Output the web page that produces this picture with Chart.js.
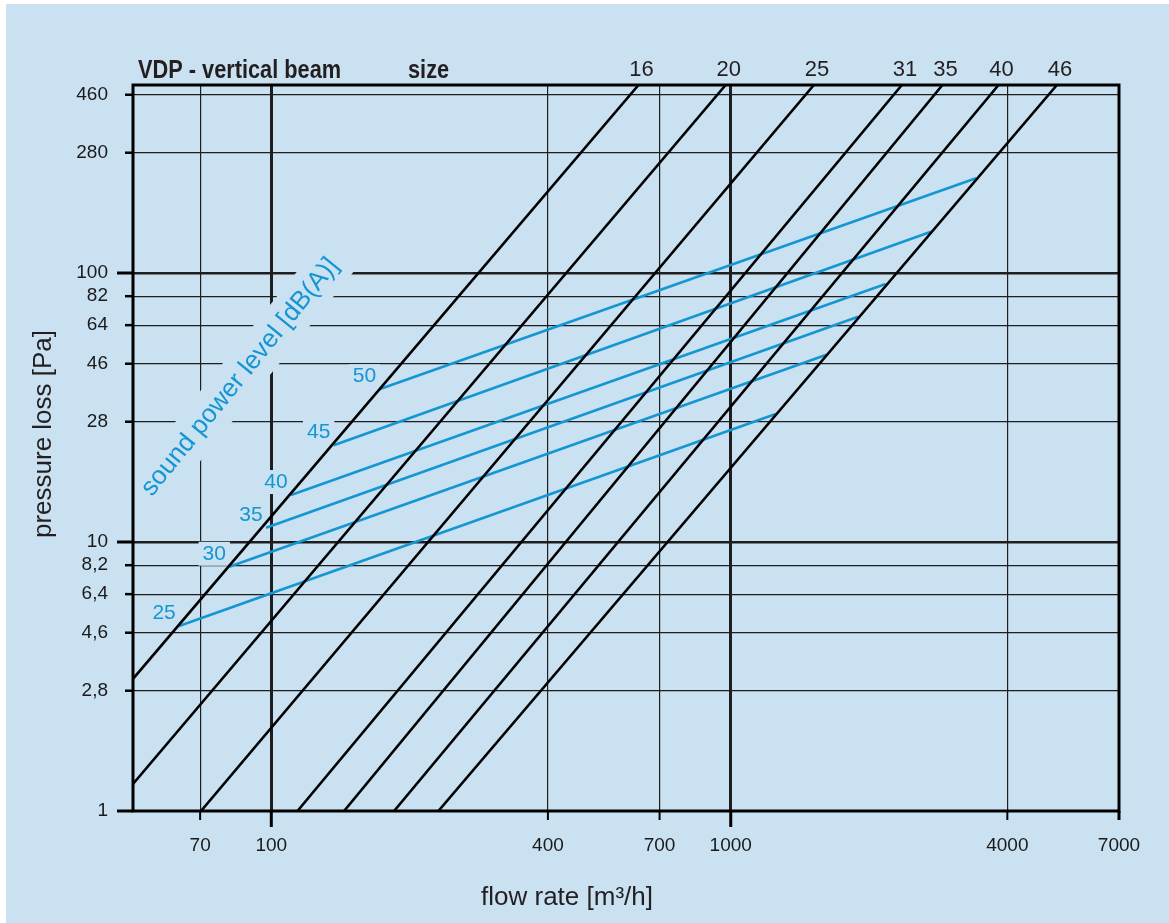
<!DOCTYPE html>
<html>
<head>
<meta charset="utf-8">
<script src="https://cdn.jsdelivr.net/npm/chart.js@4.4.1/dist/chart.umd.min.js"></script>
<style>
  html, body { margin: 0; padding: 0; background: #fff; }
  canvas { display: block; }
</style>
</head>
<body>
<canvas id="lossChart" width="1169" height="923"></canvas>
<script>
// Data (log-log, flow [m3/h] vs pressure loss [Pa])
const flowTicks = [70, 100, 400, 700, 1000, 4000, 7000];
const lossTicks = [1, 2.8, 4.6, 6.4, 8.2, 10, 28, 46, 64, 82, 100, 280, 460];

// size lines: one low point and one high point each
const sizes = ['16', '20', '25', '31', '35', '40', '46'];
const sizeFlowLow = [50, 50, 70.3, 114, 144, 185, 231];
const sizeLossLow = [3.1, 1.26, 1, 1, 1, 1, 1];
const sizeFlowHigh = [630, 975, 1517, 2358, 2890, 3828, 5129];
const sizeLossHigh = [500, 500, 500, 500, 500, 500, 500];

// sound power level lines [dB(A)]
const soundLevels = ['25', '30', '35', '40', '45', '50'];
const soundFlowStart = [63.0, 81.0, 97.4, 110.4, 136.7, 171.9];
const soundLossStart = [4.87, 8.09, 11.3, 14.95, 22.9, 37.0];
const soundFlowEnd = [1253, 1616, 1894, 2173, 2728, 3418];
const soundLossEnd = [29.9, 49.7, 68.8, 91.0, 142.4, 224.9];

// Theme
const colors = {
    bg: '#cae1f2',
    ink: '#231f20',
    grid: '#1e1e1e',
    blue: '#1496d2'
};
const font = "'Liberation Sans', Arial, sans-serif";
Chart.defaults.font.family = font;

const majorFlow = [100, 1000];
const majorLoss = [10, 100];

const datasets = [];
sizes.forEach((s, i) => {
    datasets.push({
        label: 'size ' + s,
        data: [{ x: sizeFlowLow[i], y: sizeLossLow[i] }, { x: sizeFlowHigh[i], y: sizeLossHigh[i] }],
        borderColor: '#000',
        borderWidth: 2.6,
        order: 0
    });
});
soundLevels.forEach((s, i) => {
    datasets.push({
        label: s + ' dB(A)',
        data: [{ x: soundFlowStart[i], y: soundLossStart[i] }, { x: soundFlowEnd[i], y: soundLossEnd[i] }],
        borderColor: colors.blue,
        borderWidth: 2.6,
        order: 1
    });
});

function labelBox(ctx, text, x, y) {
    const w = ctx.measureText(text).width;
    ctx.fillStyle = colors.bg;
    ctx.fillRect(x - w / 2 - 4, y - 12, w + 8, 24);
    ctx.fillStyle = colors.blue;
    ctx.fillText(text, x, y);
}

const decor = {
    id: 'decor',
    beforeDraw(chart) {
        const ctx = chart.ctx;
        ctx.save();
        ctx.fillStyle = '#fff';
        ctx.fillRect(0, 0, chart.width, chart.height);
        ctx.fillStyle = colors.bg;
        ctx.fillRect(6, 4, chart.width - 6, chart.height - 4);
        ctx.restore();
    },
    beforeDatasetsDraw(chart) {
        const ctx = chart.ctx;
        const a = chart.chartArea;
        const xs = chart.scales.x, ys = chart.scales.y;
        ctx.save();
        // rotated caption, its box hides the grid behind it
        const cap = 'sound power level [dB(A)]';
        ctx.translate(a.left + 107, a.top + 292);
        ctx.rotate(-51 * Math.PI / 180);
        ctx.font = '26px ' + font;
        const w = ctx.measureText(cap).width;
        ctx.fillStyle = colors.bg;
        ctx.fillRect(-w / 2 - 8, -22, w + 16, 44);
        ctx.fillStyle = colors.blue;
        ctx.textAlign = 'center';
        ctx.textBaseline = 'middle';
        ctx.fillText(cap, 0, 0);
        ctx.restore();

        ctx.save();
        ctx.font = '21px ' + font;
        ctx.textAlign = 'center';
        ctx.textBaseline = 'middle';
        soundLevels.forEach((s, i) => {
            const px = xs.getPixelForValue(soundFlowStart[i]);
            const py = ys.getPixelForValue(soundLossStart[i]);
            labelBox(ctx, s, px - 15, py - 13);
        });
        ctx.restore();
    },
    afterDatasetsDraw(chart) {
        const ctx = chart.ctx;
        const a = chart.chartArea;
        const xs = chart.scales.x, ys = chart.scales.y;
        ctx.save();
        // frame
        ctx.strokeStyle = '#000';
        ctx.lineWidth = 3;
        ctx.strokeRect(a.left, a.top, a.right - a.left, a.bottom - a.top);

        // outside tick marks
        lossTicks.forEach(v => {
            const py = ys.getPixelForValue(v);
            const big = v === 1 || majorLoss.includes(v);
            ctx.lineWidth = big ? 3 : 2.5;
            ctx.beginPath();
            ctx.moveTo(a.left, py);
            ctx.lineTo(a.left - (big ? 16 : 8), py);
            ctx.stroke();
        });
        flowTicks.forEach(v => {
            const px = xs.getPixelForValue(v);
            const big = majorFlow.includes(v);
            ctx.lineWidth = big || v === 7000 ? 3 : 2;
            ctx.beginPath();
            ctx.moveTo(px, a.bottom);
            ctx.lineTo(px, a.bottom + (big ? 16 : 9));
            ctx.stroke();
        });

        // size labels above the line ends
        ctx.fillStyle = colors.ink;
        ctx.font = '22px ' + font;
        ctx.textAlign = 'center';
        ctx.textBaseline = 'alphabetic';
        sizes.forEach((s, i) => {
            const px = xs.getPixelForValue(sizeFlowHigh[i]);
            ctx.fillText(s, px + 3, a.top - 9);
        });

        // heading, narrow bold
        ctx.font = 'bold 25px ' + font;
        ctx.textAlign = 'left';
        ctx.save();
        ctx.translate(a.left + 5, a.top - 7);
        ctx.scale(0.87, 1);
        ctx.fillText('VDP - vertical beam', 0, 0);
        ctx.restore();
        ctx.save();
        ctx.translate(a.left + 275, a.top - 7);
        ctx.scale(0.87, 1);
        ctx.fillText('size', 0, 0);
        ctx.restore();

        // axis titles
        ctx.font = '26px ' + font;
        ctx.textAlign = 'center';
        ctx.fillText('flow rate [m\u00b3/h]', 567, 905);
        ctx.save();
        ctx.translate(51, 434);
        ctx.rotate(-Math.PI / 2);
        ctx.fillText('pressure loss [Pa]', 0, 0);
        ctx.restore();
        ctx.restore();
    }
};

new Chart(document.getElementById('lossChart'), {
    type: 'scatter',
    data: { datasets },
    options: {
        responsive: false,
        devicePixelRatio: 1,
        animation: false,
        showLine: true,
        elements: { point: { radius: 0 }, line: { tension: 0 } },
        layout: { padding: { left: 0, right: 50, top: 85, bottom: 0 } },
        plugins: { legend: { display: false }, tooltip: { enabled: false } },
        scales: {
            x: {
                type: 'logarithmic',
                min: 50,
                max: 7000,
                afterBuildTicks: (s) => { s.ticks = flowTicks.map(v => ({ value: v })); },
                afterFit: (s) => { s.height = 112; },
                ticks: {
                    padding: 23,
                    color: '#1a1a1a',
                    font: { size: 19 },
                    autoSkip: false,
                    maxRotation: 0,
                    callback: (v) => String(v)
                },
                grid: {
                    drawTicks: false,
                    color: colors.grid,
                    lineWidth: (c) => (c.tick && majorFlow.includes(c.tick.value) ? 3 : 1.2)
                },
                border: { display: false }
            },
            y: {
                type: 'logarithmic',
                min: 1,
                max: 500,
                afterBuildTicks: (s) => { s.ticks = lossTicks.map(v => ({ value: v })); },
                afterFit: (s) => { s.width = 133; },
                ticks: {
                    padding: 25,
                    color: '#1a1a1a',
                    font: { size: 19 },
                    autoSkip: false,
                    callback: (v) => String(v).replace('.', ',')
                },
                grid: {
                    drawTicks: false,
                    color: colors.grid,
                    lineWidth: (c) => (c.tick && majorLoss.includes(c.tick.value) ? 2.4 : 1.2)
                },
                border: { display: false }
            }
        }
    },
    plugins: [decor]
});
</script>
</body>
</html>
